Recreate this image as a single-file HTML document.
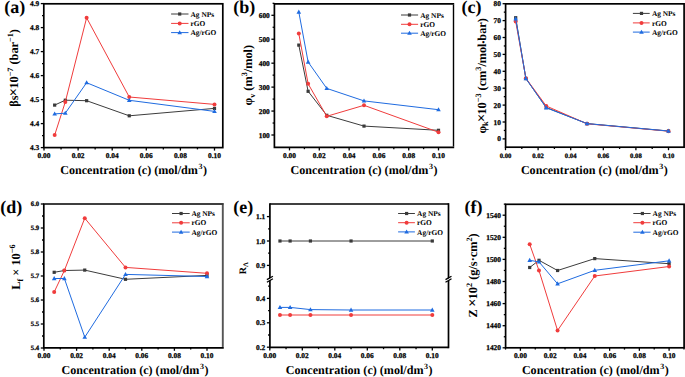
<!DOCTYPE html>
<html><head><meta charset="utf-8"><style>
html,body{margin:0;padding:0;background:#fff;}
body{width:685px;height:377px;overflow:hidden;}
svg{display:block;font-family:"Liberation Serif",serif;text-rendering:geometricPrecision;}
.tk{stroke:#000;stroke-width:0.25px;}
</style></head><body>
<svg width="685" height="377" viewBox="0 0 685 377">
<rect width="685" height="377" fill="#fff"/>
<rect x="43.8" y="3.8" width="179" height="143.8" fill="none" stroke="#000" stroke-width="1.7"/>
<line x1="44" y1="147.6" x2="44" y2="150.6" stroke="#000" stroke-width="1.3"/>
<line x1="78.1" y1="147.6" x2="78.1" y2="150.6" stroke="#000" stroke-width="1.3"/>
<line x1="112.2" y1="147.6" x2="112.2" y2="150.6" stroke="#000" stroke-width="1.3"/>
<line x1="146.3" y1="147.6" x2="146.3" y2="150.6" stroke="#000" stroke-width="1.3"/>
<line x1="180.4" y1="147.6" x2="180.4" y2="150.6" stroke="#000" stroke-width="1.3"/>
<line x1="214.5" y1="147.6" x2="214.5" y2="150.6" stroke="#000" stroke-width="1.3"/>
<line x1="61.05" y1="147.6" x2="61.05" y2="149.4" stroke="#000" stroke-width="1.3"/>
<line x1="95.15" y1="147.6" x2="95.15" y2="149.4" stroke="#000" stroke-width="1.3"/>
<line x1="129.25" y1="147.6" x2="129.25" y2="149.4" stroke="#000" stroke-width="1.3"/>
<line x1="163.35" y1="147.6" x2="163.35" y2="149.4" stroke="#000" stroke-width="1.3"/>
<line x1="197.45" y1="147.6" x2="197.45" y2="149.4" stroke="#000" stroke-width="1.3"/>
<text class="tk" x="44" y="158.1" font-size="7.4" font-weight="bold" text-anchor="middle">0.00</text>
<text class="tk" x="78.1" y="158.1" font-size="7.4" font-weight="bold" text-anchor="middle">0.02</text>
<text class="tk" x="112.2" y="158.1" font-size="7.4" font-weight="bold" text-anchor="middle">0.04</text>
<text class="tk" x="146.3" y="158.1" font-size="7.4" font-weight="bold" text-anchor="middle">0.06</text>
<text class="tk" x="180.4" y="158.1" font-size="7.4" font-weight="bold" text-anchor="middle">0.08</text>
<text class="tk" x="214.5" y="158.1" font-size="7.4" font-weight="bold" text-anchor="middle">0.10</text>
<line x1="43.8" y1="147.6" x2="40.8" y2="147.6" stroke="#000" stroke-width="1.3"/>
<line x1="43.8" y1="123.6" x2="40.8" y2="123.6" stroke="#000" stroke-width="1.3"/>
<line x1="43.8" y1="99.6" x2="40.8" y2="99.6" stroke="#000" stroke-width="1.3"/>
<line x1="43.8" y1="75.6" x2="40.8" y2="75.6" stroke="#000" stroke-width="1.3"/>
<line x1="43.8" y1="51.6" x2="40.8" y2="51.6" stroke="#000" stroke-width="1.3"/>
<line x1="43.8" y1="27.6" x2="40.8" y2="27.6" stroke="#000" stroke-width="1.3"/>
<line x1="43.8" y1="3.6" x2="40.8" y2="3.6" stroke="#000" stroke-width="1.3"/>
<line x1="43.8" y1="135.6" x2="42" y2="135.6" stroke="#000" stroke-width="1.3"/>
<line x1="43.8" y1="111.6" x2="42" y2="111.6" stroke="#000" stroke-width="1.3"/>
<line x1="43.8" y1="87.6" x2="42" y2="87.6" stroke="#000" stroke-width="1.3"/>
<line x1="43.8" y1="63.6" x2="42" y2="63.6" stroke="#000" stroke-width="1.3"/>
<line x1="43.8" y1="39.6" x2="42" y2="39.6" stroke="#000" stroke-width="1.3"/>
<line x1="43.8" y1="15.6" x2="42" y2="15.6" stroke="#000" stroke-width="1.3"/>
<text class="tk" x="39.2" y="150.1" font-size="7.4" font-weight="bold" text-anchor="end">4.3</text>
<text class="tk" x="39.2" y="126.1" font-size="7.4" font-weight="bold" text-anchor="end">4.4</text>
<text class="tk" x="39.2" y="102.1" font-size="7.4" font-weight="bold" text-anchor="end">4.5</text>
<text class="tk" x="39.2" y="78.1" font-size="7.4" font-weight="bold" text-anchor="end">4.6</text>
<text class="tk" x="39.2" y="54.1" font-size="7.4" font-weight="bold" text-anchor="end">4.7</text>
<text class="tk" x="39.2" y="30.1" font-size="7.4" font-weight="bold" text-anchor="end">4.8</text>
<text class="tk" x="39.2" y="6.1" font-size="7.4" font-weight="bold" text-anchor="end">4.9</text>
<polyline points="54.66,105.1 65.31,100.2 86.62,100.7 129.25,115.8 214.5,108.4" fill="none" stroke="#3c3c3c" stroke-width="1.0" stroke-linejoin="round"/>
<rect x="53.06" y="103.5" width="3.2" height="3.2" fill="#3a3a3a"/>
<rect x="63.71" y="98.6" width="3.2" height="3.2" fill="#3a3a3a"/>
<rect x="85.03" y="99.1" width="3.2" height="3.2" fill="#3a3a3a"/>
<rect x="127.65" y="114.2" width="3.2" height="3.2" fill="#3a3a3a"/>
<rect x="212.9" y="106.8" width="3.2" height="3.2" fill="#3a3a3a"/>
<polyline points="54.66,135.1 65.31,101.9 86.62,17.8 129.25,97 214.5,104.4" fill="none" stroke="#f03c3c" stroke-width="1.0" stroke-linejoin="round"/>
<circle cx="54.66" cy="135.1" r="2" fill="#f03c3c"/>
<circle cx="65.31" cy="101.9" r="2" fill="#f03c3c"/>
<circle cx="86.62" cy="17.8" r="2" fill="#f03c3c"/>
<circle cx="129.25" cy="97" r="2" fill="#f03c3c"/>
<circle cx="214.5" cy="104.4" r="2" fill="#f03c3c"/>
<polyline points="54.66,113.9 65.31,113.2 86.62,82.7 129.25,100.3 214.5,111.4" fill="none" stroke="#1f6be0" stroke-width="1.0" stroke-linejoin="round"/>
<path d="M54.66 111.44L56.96 115.54L52.36 115.54Z" fill="#1f6be0"/>
<path d="M65.31 110.74L67.61 114.84L63.01 114.84Z" fill="#1f6be0"/>
<path d="M86.62 80.24L88.92 84.34L84.33 84.34Z" fill="#1f6be0"/>
<path d="M129.25 97.84L131.55 101.94L126.95 101.94Z" fill="#1f6be0"/>
<path d="M214.5 108.94L216.8 113.04L212.2 113.04Z" fill="#1f6be0"/>
<line x1="171.1" y1="14" x2="188.5" y2="14" stroke="#3c3c3c" stroke-width="1"/>
<rect x="178.1" y="12.4" width="3.2" height="3.2" fill="#3a3a3a"/>
<text x="190.5" y="16.6" font-size="7.4" font-weight="bold">Ag NPs</text>
<line x1="171.1" y1="23.4" x2="188.5" y2="23.4" stroke="#f03c3c" stroke-width="1"/>
<circle cx="179.7" cy="23.4" r="2" fill="#f03c3c"/>
<text x="190.5" y="26" font-size="7.4" font-weight="bold">rGO</text>
<line x1="171.1" y1="32.6" x2="188.5" y2="32.6" stroke="#1f6be0" stroke-width="1"/>
<path d="M179.7 30.14L182 34.24L177.4 34.24Z" fill="#1f6be0"/>
<text x="190.5" y="35.2" font-size="7.4" font-weight="bold">Ag/rGO</text>
<text x="133.6" y="173.7" font-size="12.1" font-weight="bold" text-anchor="middle">Concentration (c) (mol/dm<tspan dx="0.6" dy="-4.7" font-size="7.99">3</tspan><tspan dx="0.5" dy="4.7">)</tspan></text>
<text transform="translate(17.9,67.9) rotate(-90)" x="0" y="0" font-size="12.3" font-weight="bold" text-anchor="middle">βs<tspan dx="-0.7" font-size="14.5">×</tspan><tspan dx="-0.7">10</tspan><tspan dy="-5" font-size="8.2">−7</tspan><tspan dy="5"> (bar</tspan><tspan dy="-5" font-size="8.2">−1</tspan><tspan dy="5">)</tspan></text>
<text x="4.2" y="12.5" font-size="18" font-weight="bold">(a)</text>
<line x1="453.5" y1="4.65" x2="453.5" y2="146.55" stroke="#000" stroke-width="1.4"/>
<path d="M454.2 3.8H274.4V147.4H454.2" fill="none" stroke="#000" stroke-width="1.7" stroke-linejoin="miter"/>
<line x1="289.5" y1="147.4" x2="289.5" y2="150.4" stroke="#000" stroke-width="1.3"/>
<line x1="319.3" y1="147.4" x2="319.3" y2="150.4" stroke="#000" stroke-width="1.3"/>
<line x1="349.1" y1="147.4" x2="349.1" y2="150.4" stroke="#000" stroke-width="1.3"/>
<line x1="378.9" y1="147.4" x2="378.9" y2="150.4" stroke="#000" stroke-width="1.3"/>
<line x1="408.7" y1="147.4" x2="408.7" y2="150.4" stroke="#000" stroke-width="1.3"/>
<line x1="438.5" y1="147.4" x2="438.5" y2="150.4" stroke="#000" stroke-width="1.3"/>
<line x1="304.4" y1="147.4" x2="304.4" y2="149.2" stroke="#000" stroke-width="1.3"/>
<line x1="334.2" y1="147.4" x2="334.2" y2="149.2" stroke="#000" stroke-width="1.3"/>
<line x1="364" y1="147.4" x2="364" y2="149.2" stroke="#000" stroke-width="1.3"/>
<line x1="393.8" y1="147.4" x2="393.8" y2="149.2" stroke="#000" stroke-width="1.3"/>
<line x1="423.6" y1="147.4" x2="423.6" y2="149.2" stroke="#000" stroke-width="1.3"/>
<text class="tk" x="289.5" y="158.1" font-size="7.4" font-weight="bold" text-anchor="middle">0.00</text>
<text class="tk" x="319.3" y="158.1" font-size="7.4" font-weight="bold" text-anchor="middle">0.02</text>
<text class="tk" x="349.1" y="158.1" font-size="7.4" font-weight="bold" text-anchor="middle">0.04</text>
<text class="tk" x="378.9" y="158.1" font-size="7.4" font-weight="bold" text-anchor="middle">0.06</text>
<text class="tk" x="408.7" y="158.1" font-size="7.4" font-weight="bold" text-anchor="middle">0.08</text>
<text class="tk" x="438.5" y="158.1" font-size="7.4" font-weight="bold" text-anchor="middle">0.10</text>
<line x1="274.4" y1="135" x2="271.4" y2="135" stroke="#000" stroke-width="1.3"/>
<line x1="274.4" y1="111.06" x2="271.4" y2="111.06" stroke="#000" stroke-width="1.3"/>
<line x1="274.4" y1="87.12" x2="271.4" y2="87.12" stroke="#000" stroke-width="1.3"/>
<line x1="274.4" y1="63.18" x2="271.4" y2="63.18" stroke="#000" stroke-width="1.3"/>
<line x1="274.4" y1="39.24" x2="271.4" y2="39.24" stroke="#000" stroke-width="1.3"/>
<line x1="274.4" y1="15.3" x2="271.4" y2="15.3" stroke="#000" stroke-width="1.3"/>
<line x1="274.4" y1="123.03" x2="272.6" y2="123.03" stroke="#000" stroke-width="1.3"/>
<line x1="274.4" y1="99.09" x2="272.6" y2="99.09" stroke="#000" stroke-width="1.3"/>
<line x1="274.4" y1="75.15" x2="272.6" y2="75.15" stroke="#000" stroke-width="1.3"/>
<line x1="274.4" y1="51.21" x2="272.6" y2="51.21" stroke="#000" stroke-width="1.3"/>
<line x1="274.4" y1="27.27" x2="272.6" y2="27.27" stroke="#000" stroke-width="1.3"/>
<line x1="274.4" y1="3.33" x2="272.6" y2="3.33" stroke="#000" stroke-width="1.3"/>
<text class="tk" x="269.8" y="137.5" font-size="7.4" font-weight="bold" text-anchor="end">100</text>
<text class="tk" x="269.8" y="113.56" font-size="7.4" font-weight="bold" text-anchor="end">200</text>
<text class="tk" x="269.8" y="89.62" font-size="7.4" font-weight="bold" text-anchor="end">300</text>
<text class="tk" x="269.8" y="65.68" font-size="7.4" font-weight="bold" text-anchor="end">400</text>
<text class="tk" x="269.8" y="41.74" font-size="7.4" font-weight="bold" text-anchor="end">500</text>
<text class="tk" x="269.8" y="17.8" font-size="7.4" font-weight="bold" text-anchor="end">600</text>
<polyline points="298.81,45.1 308.12,91.3 326.75,115.3 364,126.1 438.5,130.3" fill="none" stroke="#3c3c3c" stroke-width="1.0" stroke-linejoin="round"/>
<rect x="297.21" y="43.5" width="3.2" height="3.2" fill="#3a3a3a"/>
<rect x="306.52" y="89.7" width="3.2" height="3.2" fill="#3a3a3a"/>
<rect x="325.15" y="113.7" width="3.2" height="3.2" fill="#3a3a3a"/>
<rect x="362.4" y="124.5" width="3.2" height="3.2" fill="#3a3a3a"/>
<rect x="436.9" y="128.7" width="3.2" height="3.2" fill="#3a3a3a"/>
<polyline points="298.81,33.6 308.12,83.8 326.75,116.3 364,105.3 438.5,132.2" fill="none" stroke="#f03c3c" stroke-width="1.0" stroke-linejoin="round"/>
<circle cx="298.81" cy="33.6" r="2" fill="#f03c3c"/>
<circle cx="308.12" cy="83.8" r="2" fill="#f03c3c"/>
<circle cx="326.75" cy="116.3" r="2" fill="#f03c3c"/>
<circle cx="364" cy="105.3" r="2" fill="#f03c3c"/>
<circle cx="438.5" cy="132.2" r="2" fill="#f03c3c"/>
<polyline points="298.81,12 308.12,62 326.75,88.4 364,100.9 438.5,109.7" fill="none" stroke="#1f6be0" stroke-width="1.0" stroke-linejoin="round"/>
<path d="M298.81 9.54L301.11 13.64L296.51 13.64Z" fill="#1f6be0"/>
<path d="M308.12 59.54L310.43 63.64L305.82 63.64Z" fill="#1f6be0"/>
<path d="M326.75 85.94L329.05 90.04L324.45 90.04Z" fill="#1f6be0"/>
<path d="M364 98.44L366.3 102.54L361.7 102.54Z" fill="#1f6be0"/>
<path d="M438.5 107.24L440.8 111.34L436.2 111.34Z" fill="#1f6be0"/>
<line x1="401" y1="15" x2="418.1" y2="15" stroke="#3c3c3c" stroke-width="1"/>
<rect x="407.9" y="13.4" width="3.2" height="3.2" fill="#3a3a3a"/>
<text x="420.2" y="17.6" font-size="7.4" font-weight="bold">Ag NPs</text>
<line x1="401" y1="24.3" x2="418.1" y2="24.3" stroke="#f03c3c" stroke-width="1"/>
<circle cx="409.5" cy="24.3" r="2" fill="#f03c3c"/>
<text x="420.2" y="26.9" font-size="7.4" font-weight="bold">rGO</text>
<line x1="401" y1="33.2" x2="418.1" y2="33.2" stroke="#1f6be0" stroke-width="1"/>
<path d="M409.5 30.74L411.8 34.84L407.2 34.84Z" fill="#1f6be0"/>
<text x="420.2" y="35.8" font-size="7.4" font-weight="bold">Ag/rGO</text>
<text x="364" y="173.7" font-size="12.1" font-weight="bold" text-anchor="middle">Concentration (c) (mol/dm<tspan dx="0.6" dy="-4.7" font-size="7.99">3</tspan><tspan dx="0.5" dy="4.7">)</tspan></text>
<text transform="translate(252.2,75.2) rotate(-90)" x="0" y="0" font-size="12.3" font-weight="bold" text-anchor="middle">φ<tspan dy="2.5" font-size="8.2">v</tspan><tspan dy="-2.5"> (m</tspan><tspan dy="-5" font-size="8.2">3</tspan><tspan dy="5">/mol)</tspan></text>
<text x="233.2" y="12.5" font-size="18" font-weight="bold">(b)</text>
<rect x="505.6" y="3.85" width="178.5" height="143.35" fill="none" stroke="#000" stroke-width="1.7"/>
<line x1="505.5" y1="147.2" x2="505.5" y2="150.2" stroke="#000" stroke-width="1.3"/>
<line x1="538.1" y1="147.2" x2="538.1" y2="150.2" stroke="#000" stroke-width="1.3"/>
<line x1="570.7" y1="147.2" x2="570.7" y2="150.2" stroke="#000" stroke-width="1.3"/>
<line x1="603.3" y1="147.2" x2="603.3" y2="150.2" stroke="#000" stroke-width="1.3"/>
<line x1="635.9" y1="147.2" x2="635.9" y2="150.2" stroke="#000" stroke-width="1.3"/>
<line x1="668.5" y1="147.2" x2="668.5" y2="150.2" stroke="#000" stroke-width="1.3"/>
<line x1="521.8" y1="147.2" x2="521.8" y2="149" stroke="#000" stroke-width="1.3"/>
<line x1="554.4" y1="147.2" x2="554.4" y2="149" stroke="#000" stroke-width="1.3"/>
<line x1="587" y1="147.2" x2="587" y2="149" stroke="#000" stroke-width="1.3"/>
<line x1="619.6" y1="147.2" x2="619.6" y2="149" stroke="#000" stroke-width="1.3"/>
<line x1="652.2" y1="147.2" x2="652.2" y2="149" stroke="#000" stroke-width="1.3"/>
<text class="tk" x="505.5" y="157.6" font-size="6.7" font-weight="bold" text-anchor="middle">0.00</text>
<text class="tk" x="538.1" y="157.6" font-size="6.7" font-weight="bold" text-anchor="middle">0.02</text>
<text class="tk" x="570.7" y="157.6" font-size="6.7" font-weight="bold" text-anchor="middle">0.04</text>
<text class="tk" x="603.3" y="157.6" font-size="6.7" font-weight="bold" text-anchor="middle">0.06</text>
<text class="tk" x="635.9" y="157.6" font-size="6.7" font-weight="bold" text-anchor="middle">0.08</text>
<text class="tk" x="668.5" y="157.6" font-size="6.7" font-weight="bold" text-anchor="middle">0.10</text>
<line x1="505.6" y1="138.9" x2="502.6" y2="138.9" stroke="#000" stroke-width="1.3"/>
<line x1="505.6" y1="122" x2="502.6" y2="122" stroke="#000" stroke-width="1.3"/>
<line x1="505.6" y1="105.1" x2="502.6" y2="105.1" stroke="#000" stroke-width="1.3"/>
<line x1="505.6" y1="88.2" x2="502.6" y2="88.2" stroke="#000" stroke-width="1.3"/>
<line x1="505.6" y1="71.3" x2="502.6" y2="71.3" stroke="#000" stroke-width="1.3"/>
<line x1="505.6" y1="54.4" x2="502.6" y2="54.4" stroke="#000" stroke-width="1.3"/>
<line x1="505.6" y1="37.5" x2="502.6" y2="37.5" stroke="#000" stroke-width="1.3"/>
<line x1="505.6" y1="20.6" x2="502.6" y2="20.6" stroke="#000" stroke-width="1.3"/>
<line x1="505.6" y1="3.7" x2="502.6" y2="3.7" stroke="#000" stroke-width="1.3"/>
<line x1="505.6" y1="130.45" x2="503.8" y2="130.45" stroke="#000" stroke-width="1.3"/>
<line x1="505.6" y1="113.55" x2="503.8" y2="113.55" stroke="#000" stroke-width="1.3"/>
<line x1="505.6" y1="96.65" x2="503.8" y2="96.65" stroke="#000" stroke-width="1.3"/>
<line x1="505.6" y1="79.75" x2="503.8" y2="79.75" stroke="#000" stroke-width="1.3"/>
<line x1="505.6" y1="62.85" x2="503.8" y2="62.85" stroke="#000" stroke-width="1.3"/>
<line x1="505.6" y1="45.95" x2="503.8" y2="45.95" stroke="#000" stroke-width="1.3"/>
<line x1="505.6" y1="29.05" x2="503.8" y2="29.05" stroke="#000" stroke-width="1.3"/>
<line x1="505.6" y1="12.15" x2="503.8" y2="12.15" stroke="#000" stroke-width="1.3"/>
<text class="tk" x="501" y="141.4" font-size="7.4" font-weight="bold" text-anchor="end">0</text>
<text class="tk" x="501" y="124.5" font-size="7.4" font-weight="bold" text-anchor="end">10</text>
<text class="tk" x="501" y="107.6" font-size="7.4" font-weight="bold" text-anchor="end">20</text>
<text class="tk" x="501" y="90.7" font-size="7.4" font-weight="bold" text-anchor="end">30</text>
<text class="tk" x="501" y="73.8" font-size="7.4" font-weight="bold" text-anchor="end">40</text>
<text class="tk" x="501" y="56.9" font-size="7.4" font-weight="bold" text-anchor="end">50</text>
<text class="tk" x="501" y="40" font-size="7.4" font-weight="bold" text-anchor="end">60</text>
<text class="tk" x="501" y="23.1" font-size="7.4" font-weight="bold" text-anchor="end">70</text>
<text class="tk" x="501" y="6.2" font-size="7.4" font-weight="bold" text-anchor="end">80</text>
<polyline points="515.69,17.7 525.88,78.5 546.25,107.5 587,123.6 668.5,131" fill="none" stroke="#3c3c3c" stroke-width="1.0" stroke-linejoin="round"/>
<rect x="514.09" y="16.1" width="3.2" height="3.2" fill="#3a3a3a"/>
<rect x="524.27" y="76.9" width="3.2" height="3.2" fill="#3a3a3a"/>
<rect x="544.65" y="105.9" width="3.2" height="3.2" fill="#3a3a3a"/>
<rect x="585.4" y="122" width="3.2" height="3.2" fill="#3a3a3a"/>
<rect x="666.9" y="129.4" width="3.2" height="3.2" fill="#3a3a3a"/>
<polyline points="515.69,21.4 525.88,78.2 546.25,106 587,123.8 668.5,131.2" fill="none" stroke="#f03c3c" stroke-width="1.0" stroke-linejoin="round"/>
<circle cx="515.69" cy="21.4" r="2" fill="#f03c3c"/>
<circle cx="525.88" cy="78.2" r="2" fill="#f03c3c"/>
<circle cx="546.25" cy="106" r="2" fill="#f03c3c"/>
<circle cx="587" cy="123.8" r="2" fill="#f03c3c"/>
<circle cx="668.5" cy="131.2" r="2" fill="#f03c3c"/>
<polyline points="515.69,18.8 525.88,78.5 546.25,107.8 587,123.6 668.5,131" fill="none" stroke="#1f6be0" stroke-width="1.0" stroke-linejoin="round"/>
<path d="M515.69 16.34L517.99 20.44L513.39 20.44Z" fill="#1f6be0"/>
<path d="M525.88 76.04L528.17 80.14L523.58 80.14Z" fill="#1f6be0"/>
<path d="M546.25 105.34L548.55 109.44L543.95 109.44Z" fill="#1f6be0"/>
<path d="M587 121.14L589.3 125.24L584.7 125.24Z" fill="#1f6be0"/>
<path d="M668.5 128.54L670.8 132.64L666.2 132.64Z" fill="#1f6be0"/>
<line x1="632.9" y1="13.4" x2="649.7" y2="13.4" stroke="#3c3c3c" stroke-width="1"/>
<rect x="639.9" y="11.8" width="3.2" height="3.2" fill="#3a3a3a"/>
<text x="651.9" y="16" font-size="7.4" font-weight="bold">Ag NPs</text>
<line x1="632.9" y1="22.9" x2="649.7" y2="22.9" stroke="#f03c3c" stroke-width="1"/>
<circle cx="641.5" cy="22.9" r="2" fill="#f03c3c"/>
<text x="651.9" y="25.5" font-size="7.4" font-weight="bold">rGO</text>
<line x1="632.9" y1="32.1" x2="649.7" y2="32.1" stroke="#1f6be0" stroke-width="1"/>
<path d="M641.5 29.64L643.8 33.74L639.2 33.74Z" fill="#1f6be0"/>
<text x="651.9" y="34.7" font-size="7.4" font-weight="bold">Ag/rGO</text>
<text x="594.3" y="173.7" font-size="12.1" font-weight="bold" text-anchor="middle">Concentration (c) (mol/dm<tspan dx="0.6" dy="-4.7" font-size="7.99">3</tspan><tspan dx="0.5" dy="4.7">)</tspan></text>
<text transform="translate(485.5,75.9) rotate(-90)" x="0" y="0" font-size="12.25" font-weight="bold" text-anchor="middle">φ<tspan dy="2.5" font-size="8.2">k</tspan><tspan dy="-2.5" dx="-0.7" font-size="14.5">×</tspan><tspan dx="-0.7">10</tspan><tspan dy="-5" font-size="8.2">−3</tspan><tspan dy="5"> (cm</tspan><tspan dy="-5" font-size="8.2">3</tspan><tspan dy="5">/mol</tspan><tspan font-size="8">•</tspan><tspan>bar)</tspan></text>
<text x="461.6" y="12.5" font-size="18" font-weight="bold">(c)</text>
<line x1="222.8" y1="204.85" x2="222.8" y2="346.95" stroke="#555" stroke-width="1.9"/>
<path d="M223.75 204H43.8V347.8H223.75" fill="none" stroke="#000" stroke-width="1.7" stroke-linejoin="miter"/>
<line x1="44" y1="347.8" x2="44" y2="350.8" stroke="#000" stroke-width="1.3"/>
<line x1="76.6" y1="347.8" x2="76.6" y2="350.8" stroke="#000" stroke-width="1.3"/>
<line x1="109.2" y1="347.8" x2="109.2" y2="350.8" stroke="#000" stroke-width="1.3"/>
<line x1="141.8" y1="347.8" x2="141.8" y2="350.8" stroke="#000" stroke-width="1.3"/>
<line x1="174.4" y1="347.8" x2="174.4" y2="350.8" stroke="#000" stroke-width="1.3"/>
<line x1="207" y1="347.8" x2="207" y2="350.8" stroke="#000" stroke-width="1.3"/>
<line x1="60.3" y1="347.8" x2="60.3" y2="349.6" stroke="#000" stroke-width="1.3"/>
<line x1="92.9" y1="347.8" x2="92.9" y2="349.6" stroke="#000" stroke-width="1.3"/>
<line x1="125.5" y1="347.8" x2="125.5" y2="349.6" stroke="#000" stroke-width="1.3"/>
<line x1="158.1" y1="347.8" x2="158.1" y2="349.6" stroke="#000" stroke-width="1.3"/>
<line x1="190.7" y1="347.8" x2="190.7" y2="349.6" stroke="#000" stroke-width="1.3"/>
<text class="tk" x="44" y="358.4" font-size="7.4" font-weight="bold" text-anchor="middle">0.00</text>
<text class="tk" x="76.6" y="358.4" font-size="7.4" font-weight="bold" text-anchor="middle">0.02</text>
<text class="tk" x="109.2" y="358.4" font-size="7.4" font-weight="bold" text-anchor="middle">0.04</text>
<text class="tk" x="141.8" y="358.4" font-size="7.4" font-weight="bold" text-anchor="middle">0.06</text>
<text class="tk" x="174.4" y="358.4" font-size="7.4" font-weight="bold" text-anchor="middle">0.08</text>
<text class="tk" x="207" y="358.4" font-size="7.4" font-weight="bold" text-anchor="middle">0.10</text>
<line x1="43.8" y1="348" x2="40.8" y2="348" stroke="#000" stroke-width="1.3"/>
<line x1="43.8" y1="324" x2="40.8" y2="324" stroke="#000" stroke-width="1.3"/>
<line x1="43.8" y1="300" x2="40.8" y2="300" stroke="#000" stroke-width="1.3"/>
<line x1="43.8" y1="276" x2="40.8" y2="276" stroke="#000" stroke-width="1.3"/>
<line x1="43.8" y1="252" x2="40.8" y2="252" stroke="#000" stroke-width="1.3"/>
<line x1="43.8" y1="228" x2="40.8" y2="228" stroke="#000" stroke-width="1.3"/>
<line x1="43.8" y1="204" x2="40.8" y2="204" stroke="#000" stroke-width="1.3"/>
<line x1="43.8" y1="336" x2="42" y2="336" stroke="#000" stroke-width="1.3"/>
<line x1="43.8" y1="312" x2="42" y2="312" stroke="#000" stroke-width="1.3"/>
<line x1="43.8" y1="288" x2="42" y2="288" stroke="#000" stroke-width="1.3"/>
<line x1="43.8" y1="264" x2="42" y2="264" stroke="#000" stroke-width="1.3"/>
<line x1="43.8" y1="240" x2="42" y2="240" stroke="#000" stroke-width="1.3"/>
<line x1="43.8" y1="216" x2="42" y2="216" stroke="#000" stroke-width="1.3"/>
<text class="tk" x="39.2" y="350" font-size="6.7" font-weight="bold" text-anchor="end">5.4</text>
<text class="tk" x="39.2" y="326" font-size="6.7" font-weight="bold" text-anchor="end">5.5</text>
<text class="tk" x="39.2" y="302" font-size="6.7" font-weight="bold" text-anchor="end">5.6</text>
<text class="tk" x="39.2" y="278" font-size="6.7" font-weight="bold" text-anchor="end">5.7</text>
<text class="tk" x="39.2" y="254" font-size="6.7" font-weight="bold" text-anchor="end">5.8</text>
<text class="tk" x="39.2" y="230" font-size="6.7" font-weight="bold" text-anchor="end">5.9</text>
<text class="tk" x="39.2" y="206" font-size="6.7" font-weight="bold" text-anchor="end">6.0</text>
<polyline points="54.19,272.3 64.38,270.5 84.75,270.1 125.5,279.3 207,275.4" fill="none" stroke="#3c3c3c" stroke-width="1.0" stroke-linejoin="round"/>
<rect x="52.59" y="270.7" width="3.2" height="3.2" fill="#3a3a3a"/>
<rect x="62.77" y="268.9" width="3.2" height="3.2" fill="#3a3a3a"/>
<rect x="83.15" y="268.5" width="3.2" height="3.2" fill="#3a3a3a"/>
<rect x="123.9" y="277.7" width="3.2" height="3.2" fill="#3a3a3a"/>
<rect x="205.4" y="273.8" width="3.2" height="3.2" fill="#3a3a3a"/>
<polyline points="54.19,292 64.38,270.5 84.75,218.2 125.5,267.4 207,273.3" fill="none" stroke="#f03c3c" stroke-width="1.0" stroke-linejoin="round"/>
<circle cx="54.19" cy="292" r="2" fill="#f03c3c"/>
<circle cx="64.38" cy="270.5" r="2" fill="#f03c3c"/>
<circle cx="84.75" cy="218.2" r="2" fill="#f03c3c"/>
<circle cx="125.5" cy="267.4" r="2" fill="#f03c3c"/>
<circle cx="207" cy="273.3" r="2" fill="#f03c3c"/>
<polyline points="54.19,278.5 64.38,278.5 84.75,337.2 125.5,274.4 207,276.5" fill="none" stroke="#1f6be0" stroke-width="1.0" stroke-linejoin="round"/>
<path d="M54.19 276.04L56.49 280.14L51.89 280.14Z" fill="#1f6be0"/>
<path d="M64.38 276.04L66.67 280.14L62.08 280.14Z" fill="#1f6be0"/>
<path d="M84.75 334.74L87.05 338.84L82.45 338.84Z" fill="#1f6be0"/>
<path d="M125.5 271.94L127.8 276.04L123.2 276.04Z" fill="#1f6be0"/>
<path d="M207 274.04L209.3 278.14L204.7 278.14Z" fill="#1f6be0"/>
<line x1="172" y1="213.5" x2="189.7" y2="213.5" stroke="#3c3c3c" stroke-width="1"/>
<rect x="179.5" y="211.9" width="3.2" height="3.2" fill="#3a3a3a"/>
<text x="191.4" y="216.1" font-size="7.4" font-weight="bold">Ag NPs</text>
<line x1="172" y1="222.8" x2="189.7" y2="222.8" stroke="#f03c3c" stroke-width="1"/>
<circle cx="181.1" cy="222.8" r="2" fill="#f03c3c"/>
<text x="191.4" y="225.4" font-size="7.4" font-weight="bold">rGO</text>
<line x1="172" y1="232.1" x2="189.7" y2="232.1" stroke="#1f6be0" stroke-width="1"/>
<path d="M181.1 229.64L183.4 233.74L178.8 233.74Z" fill="#1f6be0"/>
<text x="191.4" y="234.7" font-size="7.4" font-weight="bold">Ag/rGO</text>
<text x="135" y="374" font-size="12.1" font-weight="bold" text-anchor="middle">Concentration (c) (mol/dm<tspan dx="0.6" dy="-4.7" font-size="7.99">3</tspan><tspan dx="0.5" dy="4.7">)</tspan></text>
<text transform="translate(20.1,267.1) rotate(-90)" x="0" y="0" font-size="12.3" font-weight="bold" text-anchor="middle">L<tspan dy="2.5" font-size="8.2">f</tspan><tspan dy="-2.5"> × 10</tspan><tspan dy="-5" font-size="8.2">−6</tspan></text>
<text x="0.3" y="212.5" font-size="18" font-weight="bold">(d)</text>
<line x1="269.9" y1="204" x2="448.5" y2="204" stroke="#000" stroke-width="1.7"/>
<line x1="269.9" y1="347.4" x2="448.5" y2="347.4" stroke="#000" stroke-width="1.7"/>
<line x1="269.9" y1="203.15" x2="269.9" y2="348.25" stroke="#000" stroke-width="1.7"/>
<path d="M266.9 280.3L272.9 276.8L272.9 278.8L266.9 282.3Z" fill="#fff"/>
<line x1="266.9" y1="279.6" x2="272.9" y2="276.2" stroke="#000" stroke-width="1.3"/>
<line x1="266.9" y1="282.2" x2="272.9" y2="278.8" stroke="#000" stroke-width="1.3"/>
<line x1="448.5" y1="203.15" x2="448.5" y2="348.25" stroke="#000" stroke-width="1.7"/>
<path d="M445.5 280.3L451.5 276.8L451.5 278.8L445.5 282.3Z" fill="#fff"/>
<line x1="445.5" y1="279.6" x2="451.5" y2="276.2" stroke="#000" stroke-width="1.3"/>
<line x1="445.5" y1="282.2" x2="451.5" y2="278.8" stroke="#000" stroke-width="1.3"/>
<line x1="269.8" y1="347.4" x2="269.8" y2="350.4" stroke="#000" stroke-width="1.3"/>
<line x1="302.3" y1="347.4" x2="302.3" y2="350.4" stroke="#000" stroke-width="1.3"/>
<line x1="334.8" y1="347.4" x2="334.8" y2="350.4" stroke="#000" stroke-width="1.3"/>
<line x1="367.3" y1="347.4" x2="367.3" y2="350.4" stroke="#000" stroke-width="1.3"/>
<line x1="399.8" y1="347.4" x2="399.8" y2="350.4" stroke="#000" stroke-width="1.3"/>
<line x1="432.3" y1="347.4" x2="432.3" y2="350.4" stroke="#000" stroke-width="1.3"/>
<line x1="286.05" y1="347.4" x2="286.05" y2="349.2" stroke="#000" stroke-width="1.3"/>
<line x1="318.55" y1="347.4" x2="318.55" y2="349.2" stroke="#000" stroke-width="1.3"/>
<line x1="351.05" y1="347.4" x2="351.05" y2="349.2" stroke="#000" stroke-width="1.3"/>
<line x1="383.55" y1="347.4" x2="383.55" y2="349.2" stroke="#000" stroke-width="1.3"/>
<line x1="416.05" y1="347.4" x2="416.05" y2="349.2" stroke="#000" stroke-width="1.3"/>
<text class="tk" x="269.8" y="358.4" font-size="7.4" font-weight="bold" text-anchor="middle">0.00</text>
<text class="tk" x="302.3" y="358.4" font-size="7.4" font-weight="bold" text-anchor="middle">0.02</text>
<text class="tk" x="334.8" y="358.4" font-size="7.4" font-weight="bold" text-anchor="middle">0.04</text>
<text class="tk" x="367.3" y="358.4" font-size="7.4" font-weight="bold" text-anchor="middle">0.06</text>
<text class="tk" x="399.8" y="358.4" font-size="7.4" font-weight="bold" text-anchor="middle">0.08</text>
<text class="tk" x="432.3" y="358.4" font-size="7.4" font-weight="bold" text-anchor="middle">0.10</text>
<line x1="269.9" y1="265.4" x2="266.9" y2="265.4" stroke="#000" stroke-width="1.3"/>
<line x1="269.9" y1="241" x2="266.9" y2="241" stroke="#000" stroke-width="1.3"/>
<line x1="269.9" y1="216.6" x2="266.9" y2="216.6" stroke="#000" stroke-width="1.3"/>
<line x1="269.9" y1="347.2" x2="266.9" y2="347.2" stroke="#000" stroke-width="1.3"/>
<line x1="269.9" y1="322.8" x2="266.9" y2="322.8" stroke="#000" stroke-width="1.3"/>
<line x1="269.9" y1="298.4" x2="266.9" y2="298.4" stroke="#000" stroke-width="1.3"/>
<line x1="269.9" y1="253.2" x2="268.1" y2="253.2" stroke="#000" stroke-width="1.3"/>
<line x1="269.9" y1="228.8" x2="268.1" y2="228.8" stroke="#000" stroke-width="1.3"/>
<line x1="269.9" y1="335" x2="268.1" y2="335" stroke="#000" stroke-width="1.3"/>
<line x1="269.9" y1="310.6" x2="268.1" y2="310.6" stroke="#000" stroke-width="1.3"/>
<line x1="269.9" y1="286.2" x2="268.1" y2="286.2" stroke="#000" stroke-width="1.3"/>
<text class="tk" x="265.3" y="267.9" font-size="7.4" font-weight="bold" text-anchor="end">0.9</text>
<text class="tk" x="265.3" y="243.5" font-size="7.4" font-weight="bold" text-anchor="end">1.0</text>
<text class="tk" x="265.3" y="219.1" font-size="7.4" font-weight="bold" text-anchor="end">1.1</text>
<text class="tk" x="265.3" y="349.7" font-size="7.4" font-weight="bold" text-anchor="end">0.2</text>
<text class="tk" x="265.3" y="325.3" font-size="7.4" font-weight="bold" text-anchor="end">0.3</text>
<text class="tk" x="265.3" y="300.9" font-size="7.4" font-weight="bold" text-anchor="end">0.4</text>
<polyline points="279.96,241 290.11,241 310.43,241 351.05,241 432.3,241" fill="none" stroke="#3c3c3c" stroke-width="1.0" stroke-linejoin="round"/>
<rect x="278.36" y="239.4" width="3.2" height="3.2" fill="#3a3a3a"/>
<rect x="288.51" y="239.4" width="3.2" height="3.2" fill="#3a3a3a"/>
<rect x="308.82" y="239.4" width="3.2" height="3.2" fill="#3a3a3a"/>
<rect x="349.45" y="239.4" width="3.2" height="3.2" fill="#3a3a3a"/>
<rect x="430.7" y="239.4" width="3.2" height="3.2" fill="#3a3a3a"/>
<polyline points="279.96,315 290.11,315 310.43,315 351.05,315 432.3,315" fill="none" stroke="#f03c3c" stroke-width="1.0" stroke-linejoin="round"/>
<circle cx="279.96" cy="315" r="2" fill="#f03c3c"/>
<circle cx="290.11" cy="315" r="2" fill="#f03c3c"/>
<circle cx="310.43" cy="315" r="2" fill="#f03c3c"/>
<circle cx="351.05" cy="315" r="2" fill="#f03c3c"/>
<circle cx="432.3" cy="315" r="2" fill="#f03c3c"/>
<polyline points="279.96,307.4 290.11,307.4 310.43,309.6 351.05,310 432.3,310" fill="none" stroke="#1f6be0" stroke-width="1.0" stroke-linejoin="round"/>
<path d="M279.96 304.94L282.26 309.04L277.66 309.04Z" fill="#1f6be0"/>
<path d="M290.11 304.94L292.41 309.04L287.81 309.04Z" fill="#1f6be0"/>
<path d="M310.43 307.14L312.73 311.24L308.12 311.24Z" fill="#1f6be0"/>
<path d="M351.05 307.54L353.35 311.64L348.75 311.64Z" fill="#1f6be0"/>
<path d="M432.3 307.54L434.6 311.64L430 311.64Z" fill="#1f6be0"/>
<line x1="398.1" y1="213.5" x2="414.9" y2="213.5" stroke="#3c3c3c" stroke-width="1"/>
<rect x="405" y="211.9" width="3.2" height="3.2" fill="#3a3a3a"/>
<text x="417.1" y="216.1" font-size="7.4" font-weight="bold">Ag NPs</text>
<line x1="398.1" y1="222.7" x2="414.9" y2="222.7" stroke="#f03c3c" stroke-width="1"/>
<circle cx="406.6" cy="222.7" r="2" fill="#f03c3c"/>
<text x="417.1" y="225.3" font-size="7.4" font-weight="bold">rGO</text>
<line x1="398.1" y1="231.9" x2="414.9" y2="231.9" stroke="#1f6be0" stroke-width="1"/>
<path d="M406.6 229.44L408.9 233.54L404.3 233.54Z" fill="#1f6be0"/>
<text x="417.1" y="234.5" font-size="7.4" font-weight="bold">Ag/rGO</text>
<text x="359.2" y="374" font-size="12.1" font-weight="bold" text-anchor="middle">Concentration (c) (mol/dm<tspan dx="0.6" dy="-4.7" font-size="7.99">3</tspan><tspan dx="0.5" dy="4.7">)</tspan></text>
<text transform="translate(246.1,268) rotate(-90)" x="0" y="0" font-size="10" font-weight="bold" text-anchor="middle">R<tspan dy="2" font-size="7">Λ</tspan></text>
<text x="233.2" y="212.5" font-size="18" font-weight="bold">(e)</text>
<rect x="505.6" y="204.3" width="178.5" height="143.5" fill="none" stroke="#000" stroke-width="1.7"/>
<line x1="520.4" y1="347.8" x2="520.4" y2="350.8" stroke="#000" stroke-width="1.3"/>
<line x1="550.14" y1="347.8" x2="550.14" y2="350.8" stroke="#000" stroke-width="1.3"/>
<line x1="579.88" y1="347.8" x2="579.88" y2="350.8" stroke="#000" stroke-width="1.3"/>
<line x1="609.62" y1="347.8" x2="609.62" y2="350.8" stroke="#000" stroke-width="1.3"/>
<line x1="639.36" y1="347.8" x2="639.36" y2="350.8" stroke="#000" stroke-width="1.3"/>
<line x1="669.1" y1="347.8" x2="669.1" y2="350.8" stroke="#000" stroke-width="1.3"/>
<line x1="505.53" y1="347.8" x2="505.53" y2="349.6" stroke="#000" stroke-width="1.3"/>
<line x1="535.27" y1="347.8" x2="535.27" y2="349.6" stroke="#000" stroke-width="1.3"/>
<line x1="565.01" y1="347.8" x2="565.01" y2="349.6" stroke="#000" stroke-width="1.3"/>
<line x1="594.75" y1="347.8" x2="594.75" y2="349.6" stroke="#000" stroke-width="1.3"/>
<line x1="624.49" y1="347.8" x2="624.49" y2="349.6" stroke="#000" stroke-width="1.3"/>
<line x1="654.23" y1="347.8" x2="654.23" y2="349.6" stroke="#000" stroke-width="1.3"/>
<line x1="683.97" y1="347.8" x2="683.97" y2="349.6" stroke="#000" stroke-width="1.3"/>
<text class="tk" x="520.4" y="358.4" font-size="7.4" font-weight="bold" text-anchor="middle">0.00</text>
<text class="tk" x="550.14" y="358.4" font-size="7.4" font-weight="bold" text-anchor="middle">0.02</text>
<text class="tk" x="579.88" y="358.4" font-size="7.4" font-weight="bold" text-anchor="middle">0.04</text>
<text class="tk" x="609.62" y="358.4" font-size="7.4" font-weight="bold" text-anchor="middle">0.06</text>
<text class="tk" x="639.36" y="358.4" font-size="7.4" font-weight="bold" text-anchor="middle">0.08</text>
<text class="tk" x="669.1" y="358.4" font-size="7.4" font-weight="bold" text-anchor="middle">0.10</text>
<line x1="505.6" y1="347.8" x2="502.6" y2="347.8" stroke="#000" stroke-width="1.3"/>
<line x1="505.6" y1="325.7" x2="502.6" y2="325.7" stroke="#000" stroke-width="1.3"/>
<line x1="505.6" y1="303.6" x2="502.6" y2="303.6" stroke="#000" stroke-width="1.3"/>
<line x1="505.6" y1="281.5" x2="502.6" y2="281.5" stroke="#000" stroke-width="1.3"/>
<line x1="505.6" y1="259.4" x2="502.6" y2="259.4" stroke="#000" stroke-width="1.3"/>
<line x1="505.6" y1="237.3" x2="502.6" y2="237.3" stroke="#000" stroke-width="1.3"/>
<line x1="505.6" y1="215.2" x2="502.6" y2="215.2" stroke="#000" stroke-width="1.3"/>
<line x1="505.6" y1="336.75" x2="503.8" y2="336.75" stroke="#000" stroke-width="1.3"/>
<line x1="505.6" y1="314.65" x2="503.8" y2="314.65" stroke="#000" stroke-width="1.3"/>
<line x1="505.6" y1="292.55" x2="503.8" y2="292.55" stroke="#000" stroke-width="1.3"/>
<line x1="505.6" y1="270.45" x2="503.8" y2="270.45" stroke="#000" stroke-width="1.3"/>
<line x1="505.6" y1="248.35" x2="503.8" y2="248.35" stroke="#000" stroke-width="1.3"/>
<line x1="505.6" y1="226.25" x2="503.8" y2="226.25" stroke="#000" stroke-width="1.3"/>
<line x1="505.6" y1="204.15" x2="503.8" y2="204.15" stroke="#000" stroke-width="1.3"/>
<text class="tk" x="501" y="350.3" font-size="7.4" font-weight="bold" text-anchor="end">1420</text>
<text class="tk" x="501" y="328.2" font-size="7.4" font-weight="bold" text-anchor="end">1440</text>
<text class="tk" x="501" y="306.1" font-size="7.4" font-weight="bold" text-anchor="end">1460</text>
<text class="tk" x="501" y="284" font-size="7.4" font-weight="bold" text-anchor="end">1480</text>
<text class="tk" x="501" y="261.9" font-size="7.4" font-weight="bold" text-anchor="end">1500</text>
<text class="tk" x="501" y="239.8" font-size="7.4" font-weight="bold" text-anchor="end">1520</text>
<text class="tk" x="501" y="217.7" font-size="7.4" font-weight="bold" text-anchor="end">1540</text>
<polyline points="529.69,267.5 538.99,260.3 557.57,270.5 594.75,258.6 669.1,263.7" fill="none" stroke="#3c3c3c" stroke-width="1.0" stroke-linejoin="round"/>
<rect x="528.09" y="265.9" width="3.2" height="3.2" fill="#3a3a3a"/>
<rect x="537.39" y="258.7" width="3.2" height="3.2" fill="#3a3a3a"/>
<rect x="555.97" y="268.9" width="3.2" height="3.2" fill="#3a3a3a"/>
<rect x="593.15" y="257" width="3.2" height="3.2" fill="#3a3a3a"/>
<rect x="667.5" y="262.1" width="3.2" height="3.2" fill="#3a3a3a"/>
<polyline points="529.69,244.2 538.99,270.5 557.57,330.5 594.75,276 669.1,266.5" fill="none" stroke="#f03c3c" stroke-width="1.0" stroke-linejoin="round"/>
<circle cx="529.69" cy="244.2" r="2" fill="#f03c3c"/>
<circle cx="538.99" cy="270.5" r="2" fill="#f03c3c"/>
<circle cx="557.57" cy="330.5" r="2" fill="#f03c3c"/>
<circle cx="594.75" cy="276" r="2" fill="#f03c3c"/>
<circle cx="669.1" cy="266.5" r="2" fill="#f03c3c"/>
<polyline points="529.69,260.3 538.99,261.9 557.57,283.8 594.75,270.3 669.1,260.8" fill="none" stroke="#1f6be0" stroke-width="1.0" stroke-linejoin="round"/>
<path d="M529.69 257.84L531.99 261.94L527.39 261.94Z" fill="#1f6be0"/>
<path d="M538.99 259.44L541.29 263.54L536.69 263.54Z" fill="#1f6be0"/>
<path d="M557.57 281.34L559.87 285.44L555.27 285.44Z" fill="#1f6be0"/>
<path d="M594.75 267.84L597.05 271.94L592.45 271.94Z" fill="#1f6be0"/>
<path d="M669.1 258.34L671.4 262.44L666.8 262.44Z" fill="#1f6be0"/>
<line x1="633.3" y1="213.5" x2="650.6" y2="213.5" stroke="#3c3c3c" stroke-width="1"/>
<rect x="640.8" y="211.9" width="3.2" height="3.2" fill="#3a3a3a"/>
<text x="652.6" y="216.1" font-size="7.4" font-weight="bold">Ag NPs</text>
<line x1="633.3" y1="222.7" x2="650.6" y2="222.7" stroke="#f03c3c" stroke-width="1"/>
<circle cx="642.4" cy="222.7" r="2" fill="#f03c3c"/>
<text x="652.6" y="225.3" font-size="7.4" font-weight="bold">rGO</text>
<line x1="633.3" y1="232.2" x2="650.6" y2="232.2" stroke="#1f6be0" stroke-width="1"/>
<path d="M642.4 229.74L644.7 233.84L640.1 233.84Z" fill="#1f6be0"/>
<text x="652.6" y="234.8" font-size="7.4" font-weight="bold">Ag/rGO</text>
<text x="595.3" y="373.8" font-size="12.1" font-weight="bold" text-anchor="middle">Concentration (c) (mol/dm<tspan dx="0.6" dy="-4.7" font-size="7.99">3</tspan><tspan dx="0.5" dy="4.7">)</tspan></text>
<text transform="translate(477.2,275.4) rotate(-90)" x="0" y="0" font-size="12.3" font-weight="bold" text-anchor="middle">Z <tspan dx="-0.7" font-size="14.5">×</tspan><tspan dx="-0.7">10</tspan><tspan dy="-5" font-size="8.2">2</tspan><tspan dy="5"> (g/s·cm</tspan><tspan dy="-5" font-size="8.2">2</tspan><tspan dy="5">)</tspan></text>
<text x="464.4" y="212.5" font-size="18" font-weight="bold">(f)</text>
</svg>
</body></html>
